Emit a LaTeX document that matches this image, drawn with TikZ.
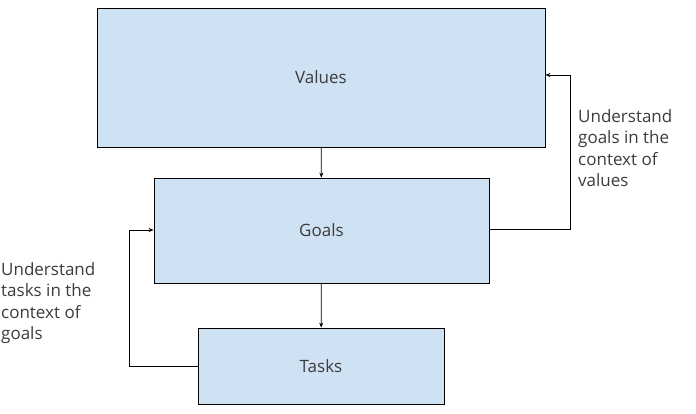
\documentclass[tikz,border=0pt]{standalone}
\usepackage{fontspec}
\setmainfont{Open Sans}
\usetikzlibrary{arrows.meta}
\definecolor{boxblue}{HTML}{CFE2F3}
\definecolor{txtgray}{HTML}{3C3C3C}
\begin{document}
\begin{tikzpicture}[x=1pt,y=-1pt,every node/.style={font=\fontsize{17}{21.5}\selectfont,text=txtgray},
  level/.style={draw=black, fill=boxblue, line width=0.8pt, inner sep=0pt},
  link/.style={-{Stealth[length=5pt,width=4pt]}, line width=0.8pt}]
  \useasboundingbox (0,0) rectangle (696,413);
  \node[level, minimum width=448, minimum height=139] (values) at (321,77.5) {Values};
  \node[level, minimum width=335, minimum height=105] (goals) at (321.5,230.5) {Goals};
  \node[level, minimum width=246, minimum height=76] (tasks) at (321,366) {Tasks};
  \coordinate (rtop) at (570,75);
  \coordinate (rbot) at (570,229);
  \coordinate (ltop) at (129,230);
  \coordinate (lbot) at (129,366);
  \draw[link] (values) -- (goals);
  \draw[link] (goals) -- (tasks);
  \draw[link] (goals.east |- rbot) -- (rbot) -- (rtop) -- (values.east |- rtop);
  \draw[link] (tasks.west |- lbot) -- (lbot) -- (ltop) -- (goals.west |- ltop);
  \node[anchor=north west, align=left, inner sep=0pt] (vnote) at (578,109) {Understand\\goals in the\\context of\\values};
  \node[anchor=north west, align=left, inner sep=0pt] (tnote) at (1,262) {Understand\\tasks in the\\context of\\goals};
\end{tikzpicture}
\end{document}
